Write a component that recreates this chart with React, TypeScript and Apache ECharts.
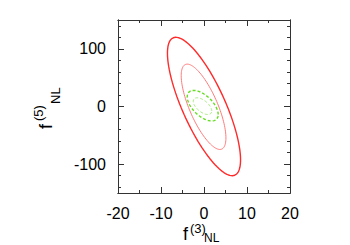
import React, { useEffect, useRef } from "react";
import * as echarts from "echarts";

// Ellipse parameters: [centerX, centerY, halfWidthX, halfHeightY, correlation]
const outerRed = [0, 0, 8.5, 120, -0.77];
const innerRed = [-0.1, -0.5, 5.2, 74, -0.73];
const outerGreen = [-0.3, 1.4, 3.6, 26.5, -0.58];
const innerGreen = [-0.35, 0.6, 2.15, 14.5, -0.58];

const xTickLabels = [-20, -10, 0, 10, 20];
const xMinorTicks = [-15, -5, 5, 15];
const yTickLabels = [-100, 0, 100];
const yMinorTicks = [-140, -120, -80, -60, -40, -20, 20, 40, 60, 80, 120, 140];

function ellipse(p: number[]) {
  const [cx, cy, X, Y, rho] = p;
  const theta = Math.acos(rho);
  const pts: number[][] = [];
  const n = 120;
  for (let i = 0; i <= n; i++) {
    const t = (i / n) * Math.PI * 2;
    pts.push([cx + X * Math.cos(t), cy + Y * Math.cos(t - theta)]);
  }
  return pts;
}

const FONT = "Liberation Sans, Arial, Helvetica, sans-serif";

export default function App() {
  const ref = useRef<HTMLDivElement>(null);
  useEffect(() => {
    if (!ref.current) return;
    const chart = echarts.init(ref.current, null, { renderer: "svg" });
    const lineColor = "#333";
    const axisBase = {
      type: "value" as const,
      axisLine: { show: true, onZero: false, lineStyle: { color: lineColor, width: 1 } },
      splitLine: { show: false },
    };
    const xAxes = [
      {
        ...axisBase,
        position: "bottom",
        min: -20,
        max: 20,
        interval: 10,
        axisTick: { show: true, inside: true, length: 6, lineStyle: { color: lineColor }, customValues: xTickLabels },
        axisLabel: { show: true, customValues: xTickLabels, fontSize: 16, color: "#000", fontFamily: FONT, margin: 12 },
      },
      {
        ...axisBase,
        position: "bottom",
        min: -20,
        max: 20,
        axisTick: { show: true, inside: true, length: 3, lineStyle: { color: lineColor }, customValues: xMinorTicks },
        axisLabel: { show: false },
      },
      {
        ...axisBase,
        position: "top",
        min: -20,
        max: 20,
        axisTick: { show: true, inside: true, length: 6, lineStyle: { color: lineColor }, customValues: xTickLabels },
        axisLabel: { show: false },
      },
      {
        ...axisBase,
        position: "top",
        min: -20,
        max: 20,
        axisTick: { show: true, inside: true, length: 3, lineStyle: { color: lineColor }, customValues: xMinorTicks },
        axisLabel: { show: false },
      },
    ];
    const yAxes = [
      {
        ...axisBase,
        position: "left",
        min: -150,
        max: 150,
        axisTick: { show: true, inside: true, length: 6, lineStyle: { color: lineColor }, customValues: yTickLabels },
        axisLabel: { show: true, customValues: yTickLabels, fontSize: 16, color: "#000", fontFamily: FONT, margin: 12 },
      },
      {
        ...axisBase,
        position: "left",
        min: -150,
        max: 150,
        axisTick: { show: true, inside: true, length: 3, lineStyle: { color: lineColor }, customValues: yMinorTicks },
        axisLabel: { show: false },
      },
      {
        ...axisBase,
        position: "right",
        min: -150,
        max: 150,
        axisTick: { show: true, inside: true, length: 6, lineStyle: { color: lineColor }, customValues: yTickLabels },
        axisLabel: { show: false },
      },
      {
        ...axisBase,
        position: "right",
        min: -150,
        max: 150,
        axisTick: { show: true, inside: true, length: 3, lineStyle: { color: lineColor }, customValues: yMinorTicks },
        axisLabel: { show: false },
      },
    ];
    const mk = (p: number[], color: string, width: number, type: any) => ({
      type: "line",
      data: ellipse(p),
      showSymbol: false,
      symbol: "none",
      smooth: false,
      xAxisIndex: 0,
      yAxisIndex: 0,
      lineStyle: { color, width, type },
      silent: true,
    });
    chart.setOption({
      animation: false,
      grid: { left: 118, right: 60, top: 20, bottom: 52, containLabel: false },
      xAxis: xAxes,
      yAxis: yAxes,
      series: [
        mk(outerRed, "#ff2a2a", 1.4, "solid"),
        mk(innerRed, "#ff7a7a", 1, "solid"),
        mk(outerGreen, "#66dd22", 1.4, [3, 2]),
        mk(innerGreen, "#a8ec80", 1, [3, 2]),
      ],
      graphic: [
        {
          type: "group",
          children: [
            { type: "text", x: 183, y: 234, style: { text: "f", fontSize: 18, fontFamily: FONT, fill: "#000", verticalAlign: "middle", align: "left" } },
            { type: "text", x: 190, y: 228, style: { text: "(3)", fontSize: 13, fontFamily: FONT, fill: "#000", verticalAlign: "middle", align: "left" } },
            { type: "text", x: 204, y: 238, style: { text: "NL", fontSize: 12, fontFamily: FONT, fill: "#000", verticalAlign: "middle", align: "left" } },
          ],
        },
        {
          type: "group",
          x: 46,
          y: 129,
          rotation: Math.PI / 2,
          children: [
            { type: "text", x: 0, y: 0, style: { text: "f", fontSize: 18, fontFamily: FONT, fill: "#000", verticalAlign: "middle", align: "left" } },
            { type: "text", x: 8, y: -8, style: { text: "(5)", fontSize: 13, fontFamily: FONT, fill: "#000", verticalAlign: "middle", align: "left" } },
            { type: "text", x: 25, y: 9, style: { text: "NL", fontSize: 13, fontFamily: FONT, fill: "#000", verticalAlign: "middle", align: "left" } },
          ],
        },
      ],
    });
    return () => chart.dispose();
  }, []);
  return <div ref={ref} style={{ width: 350, height: 245, position: "absolute", left: 0, top: 0 }} />;
}
